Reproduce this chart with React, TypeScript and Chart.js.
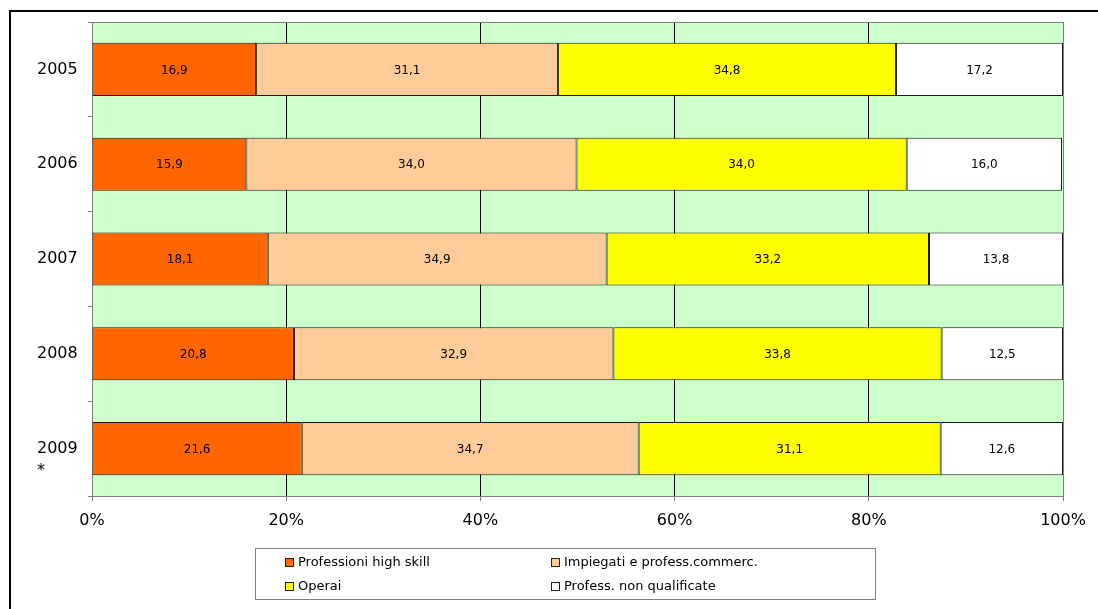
import { useEffect, useRef } from 'react';
import { Chart, registerables } from 'chart.js';

Chart.register(...registerables);

// Occupational mix by year (percent shares)
const years = ['2005', '2006', '2007', '2008', '2009'];
const highSkill = [16.9, 15.9, 18.1, 20.8, 21.6];
const impiegati = [31.1, 34.0, 34.9, 32.9, 34.7];
const operai = [34.8, 34.0, 33.2, 33.8, 31.1];
const nonQualificate = [17.2, 16.0, 13.8, 12.5, 12.6];

const seriesNames = [
  'Professioni high skill',
  'Impiegati e profess.commerc.',
  'Operai',
  'Profess. non qualificate',
];
const seriesColors = ['#FF6600', '#FFCC99', '#FFFF00', '#FFFFFF'];
const seriesValues = [highSkill, impiegati, operai, nonQualificate];

const xTickStep = 20;
const footnoteYear = '2009';
const footnoteMark = '*';

const FONT = 'DejaVu Sans, Verdana, sans-serif';
const W = 1098;
const H = 609;

const fmt = (v: number) => v.toFixed(1).replace('.', ',');

// Light green plot background plus the outer frame
const backdropPlugin = {
  id: 'backdrop',
  beforeDraw(chart: any) {
    const { ctx, chartArea } = chart;
    ctx.save();
    ctx.fillStyle = '#FFFFFF';
    ctx.fillRect(0, 0, W, H);
    ctx.fillStyle = '#CCFFCC';
    ctx.fillRect(chartArea.left, chartArea.top, chartArea.right - chartArea.left, chartArea.bottom - chartArea.top);
    // frame
    ctx.fillStyle = '#000000';
    ctx.fillRect(9, 10, W, 2);
    ctx.fillRect(9, 10, 2, H);
    ctx.restore();
  },
  beforeDatasetsDraw(chart: any) {
    const { ctx, chartArea } = chart;
    ctx.save();
    ctx.strokeStyle = '#808080';
    ctx.lineWidth = 1;
    ctx.beginPath();
    ctx.moveTo(chartArea.left, chartArea.top + 0.5);
    ctx.lineTo(chartArea.right + 1, chartArea.top + 0.5);
    ctx.stroke();
    ctx.restore();
  },
};

// Value labels centred in every bar segment, plus the footnote marker
const valueLabelPlugin = {
  id: 'valueLabels',
  afterDatasetsDraw(chart: any) {
    const { ctx } = chart;
    ctx.save();
    ctx.font = `12px ${FONT}`;
    ctx.fillStyle = '#000000';
    ctx.textAlign = 'center';
    ctx.textBaseline = 'middle';
    chart.data.datasets.forEach((ds: any, di: number) => {
      const meta = chart.getDatasetMeta(di);
      meta.data.forEach((bar: any, i: number) => {
        const cx = (bar.x + bar.base) / 2;
        ctx.fillText(fmt(ds.data[i]), cx, bar.y + 1);
      });
    });
    const yScale = chart.scales.y;
    const idx = years.indexOf(footnoteYear);
    if (idx >= 0) {
      ctx.font = `16px ${FONT}`;
      ctx.textAlign = 'left';
      ctx.textBaseline = 'alphabetic';
      ctx.fillText(footnoteMark, yScale.left, yScale.getPixelForValue(idx) + 26);
    }
    ctx.restore();
  },
};

// Boxed two-column legend beneath the axis
const boxLegendPlugin = {
  id: 'boxLegend',
  afterDraw(chart: any) {
    const { ctx } = chart;
    const box = { x: 255.5, y: 548.5, w: 620, h: 51 };
    const colX = [285, 551];
    const rowY = [563, 587];
    ctx.save();
    ctx.strokeStyle = '#808080';
    ctx.lineWidth = 1;
    ctx.strokeRect(box.x, box.y, box.w, box.h);
    ctx.font = `13px ${FONT}`;
    ctx.textAlign = 'left';
    ctx.textBaseline = 'middle';
    chart.data.datasets.forEach((ds: any, i: number) => {
      const x = colX[i % 2];
      const y = rowY[Math.floor(i / 2)];
      ctx.fillStyle = ds.backgroundColor;
      ctx.fillRect(x, y - 5, 9, 9);
      ctx.strokeStyle = '#222222';
      ctx.strokeRect(x + 0.5, y - 4.5, 8, 8);
      ctx.fillStyle = '#000000';
      ctx.fillText(ds.label, x + 13, y);
    });
    ctx.restore();
  },
};

export default function App() {
  const canvasRef = useRef<HTMLCanvasElement | null>(null);

  useEffect(() => {
    const canvas = canvasRef.current;
    if (!canvas) return;
    const chart = new Chart(canvas, {
      type: 'bar',
      data: {
        labels: years,
        datasets: seriesNames.map((name, i) => ({
          label: name,
          data: seriesValues[i],
          backgroundColor: seriesColors[i],
          borderColor: '#1a1a1a',
          borderWidth: 1,
          borderSkipped: false,
          categoryPercentage: 1,
          barPercentage: 0.56,
        })),
      },
      options: {
        indexAxis: 'y',
        responsive: false,
        animation: false,
        events: [],
        layout: { padding: { left: 37, top: 22, right: 35, bottom: 0 } },
        plugins: {
          legend: { display: false },
          tooltip: { enabled: false },
        },
        scales: {
          x: {
            stacked: true,
            min: 0,
            max: 100,
            afterFit: (scale: any) => {
              scale.height = H - 496;
            },
            ticks: {
              stepSize: xTickStep,
              padding: 10,
              color: '#000000',
              font: { family: FONT, size: 16 },
              callback: (v: any) => `${v}%`,
            },
            grid: {
              color: (c: any) =>
                c.tick && (c.tick.value === 0 || c.tick.value === 100) ? '#808080' : '#000000',
              tickColor: '#808080',
              tickLength: 5,
              lineWidth: 1,
            },
            border: { color: '#808080' },
          },
          y: {
            stacked: true,
            offset: true,
            afterFit: (scale: any) => {
              scale.width = 92 - 37;
            },
            ticks: {
              crossAlign: 'far',
              color: '#000000',
              font: { family: FONT, size: 16 },
            },
            grid: {
              offset: true,
              drawOnChartArea: false,
              tickColor: '#808080',
              tickLength: 4,
            },
            border: { color: '#808080' },
          },
        },
      },
      plugins: [backdropPlugin, valueLabelPlugin, boxLegendPlugin],
    } as any);
    return () => chart.destroy();
  }, []);

  return (
    <div style={{ position: 'absolute', left: 0, top: 0, width: W, height: H, background: '#fff' }}>
      <canvas ref={canvasRef} width={W} height={H} style={{ display: 'block' }} />
    </div>
  );
}
